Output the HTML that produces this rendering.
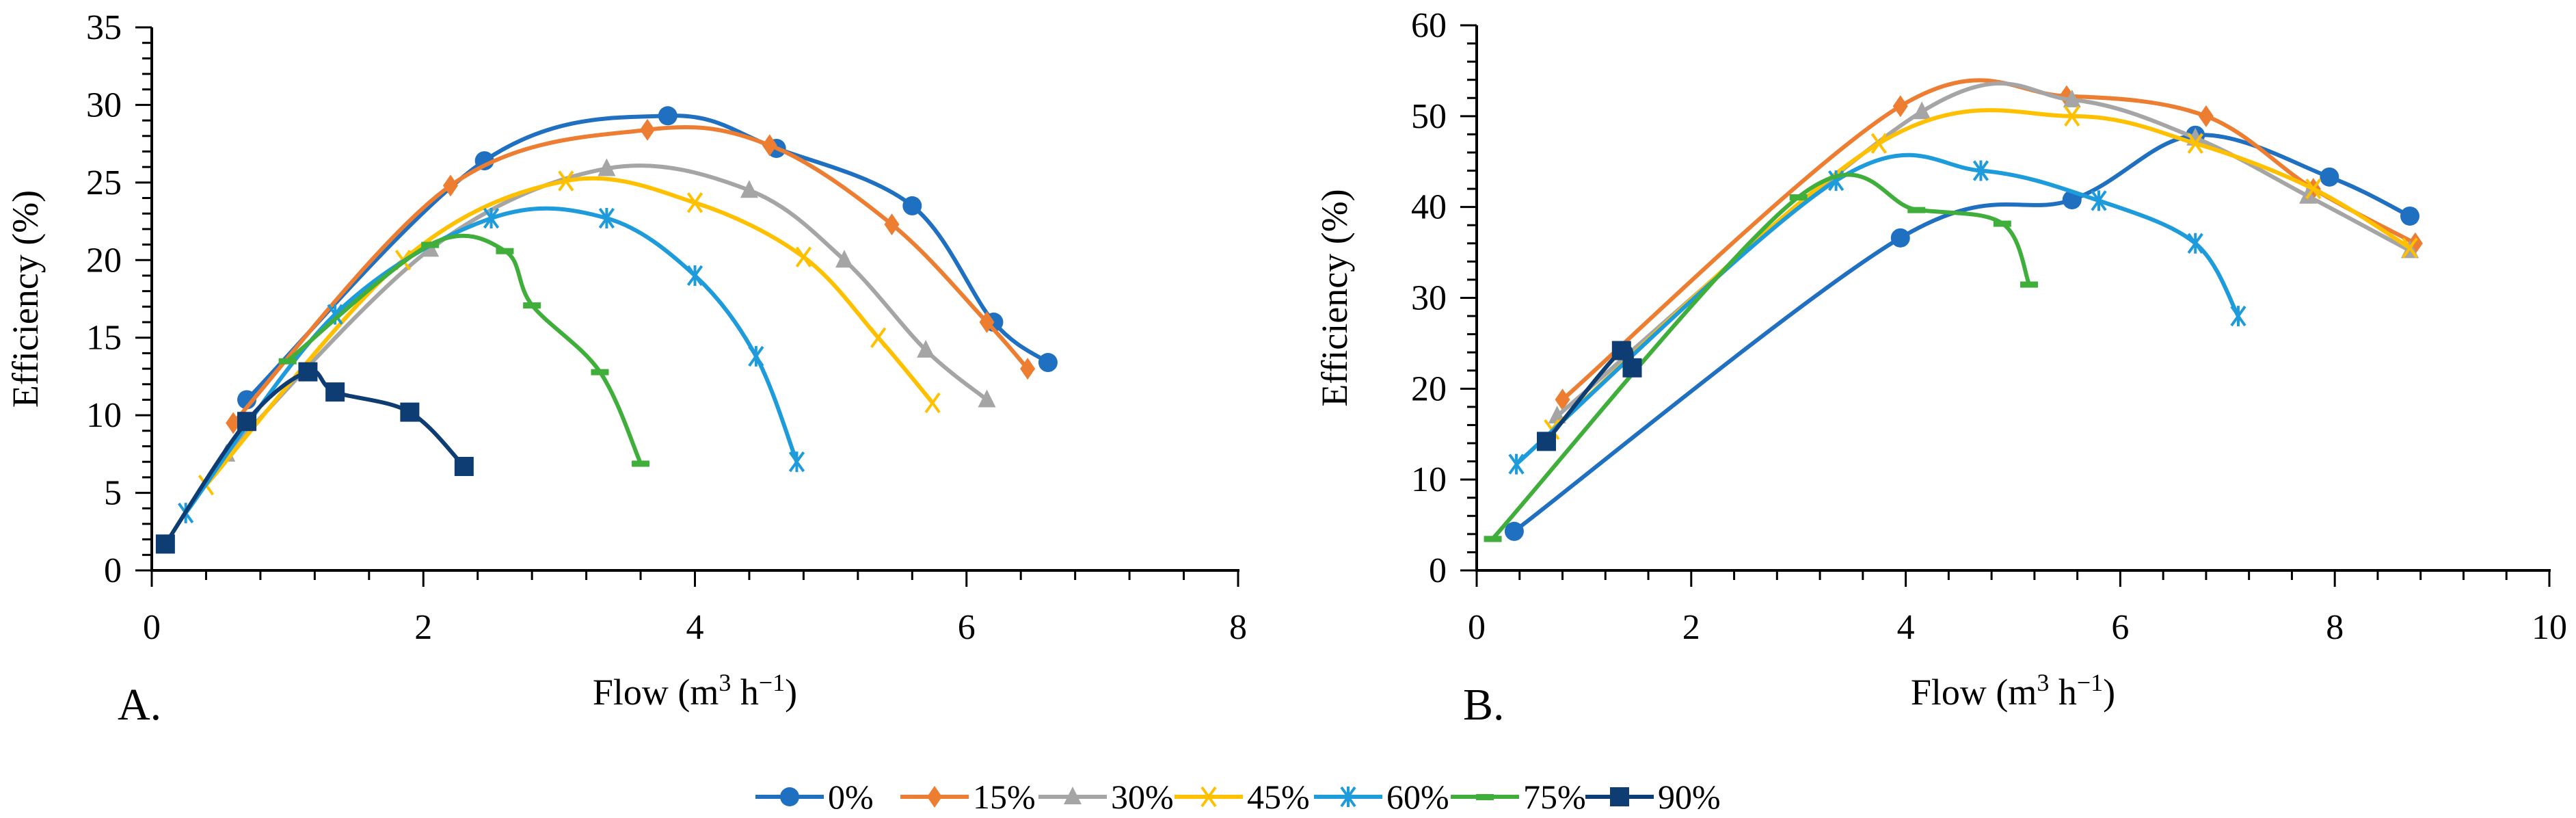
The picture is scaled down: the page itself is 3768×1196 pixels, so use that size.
<!DOCTYPE html>
<html><head><meta charset="utf-8"><style>
html,body{margin:0;padding:0;background:#fff}
svg{display:block}
text{font-family:"Liberation Serif",serif;fill:#000}
</style></head><body>
<svg id="c" width="3768" height="1196" viewBox="0 0 3768 1196"></svg>
<script>
const seriesNames=["0%","15%","30%","45%","60%","75%","90%"];
const colors=["#1f70c1","#ed7d31","#a5a5a5","#ffc000","#1e9bdb","#3fae3a","#0e3d73"];
const markers=["circle","diamond","triangle","x","star","dash","square"];
const aX0=[0.7,2.45,3.8,4.6,5.6,6.2,6.6], aY0=[11,26.4,29.3,27.2,23.5,16,13.4];
const aX15=[0.6,2.2,3.65,4.55,5.45,6.15,6.45], aY15=[9.5,24.8,28.4,27.4,22.3,16,13];
const aX30=[0.55,2.05,3.35,4.4,5.1,5.7,6.15], aY30=[7.5,20.7,25.9,24.5,20,14.2,11];
const aX45=[0.4,1.85,3.05,4.0,4.8,5.35,5.75], aY45=[5.5,20,25.1,23.7,20.2,15,10.8];
const aX60=[0.25,1.35,2.5,3.35,4.0,4.45,4.75], aY60=[3.7,16.5,22.7,22.7,19,13.8,7];
const aX75=[1.0,2.05,2.6,2.8,3.3,3.6], aY75=[13.5,21,20.6,17.1,12.8,6.9];
const aX90=[0.1,0.7,1.15,1.35,1.9,2.3], aY90=[1.7,9.6,12.8,11.5,10.2,6.7];
const bX0=[0.35,3.95,5.55,6.7,7.95,8.7], bY0=[4.3,36.6,40.8,47.9,43.3,39];
const bX15=[0.8,3.95,5.5,6.8,7.8,8.75], bY15=[18.8,51.1,52.2,50,42,36];
const bX30=[0.75,4.15,5.55,6.7,7.75,8.7], bY30=[17,50.5,51.8,47.6,41.2,35.2];
const bX45=[0.7,3.75,5.55,6.7,7.8,8.7], bY45=[15.5,47,50,47,42,35.5];
const bX60=[0.37,3.35,4.7,5.8,6.7,7.1], bY60=[11.7,42.9,44,40.7,36,28];
const bX75=[0.15,3.0,4.1,4.9,5.15], bY75=[3.5,41.1,39.7,38.2,31.5];
const bX90=[0.65,1.35,1.45], bY90=[14.2,24.2,22.3];
const xTicksA=[0,2,4,6,8], yTicksA=[0,5,10,15,20,25,30,35];
const xTicksB=[0,2,4,6,8,10], yTicksB=[0,10,20,30,40,50,60];

const NS="http://www.w3.org/2000/svg";
const svg=document.getElementById("c");
function mk(tag,attrs,parent){const e=document.createElementNS(NS,tag);for(const k in attrs)e.setAttribute(k,attrs[k]);(parent||svg).appendChild(e);return e;}

function marker(g,type,x,y,col){
  let e;
  if(type==="circle"){e=mk("circle",{cx:x,cy:y,r:14,fill:col},g);}
  else if(type==="diamond"){e=mk("polygon",{points:`${x},${y-16} ${x+11},${y} ${x},${y+16} ${x-11},${y}`,fill:col},g);}
  else if(type==="triangle"){e=mk("polygon",{points:`${x},${y-15} ${x+13},${y+11} ${x-13},${y+11}`,fill:col},g);}
  else if(type==="x"){e=mk("path",{d:`M${x-10},${y-14}L${x+10},${y+14}M${x+10},${y-14}L${x-10},${y+14}`,stroke:col,"stroke-width":4,fill:"none"},g);}
  else if(type==="star"){e=mk("path",{d:`M${x-10},${y-14}L${x+10},${y+14}M${x+10},${y-14}L${x-10},${y+14}M${x},${y-15}L${x},${y+15}`,stroke:col,"stroke-width":4,fill:"none"},g);}
  else if(type==="dash"){e=mk("rect",{x:x-13,y:y-4,width:26,height:9,fill:col},g);}
  else {e=mk("rect",{x:x-14,y:y-14,width:28,height:28,fill:col},g);}
  
  
}
function smooth(pts){
  if(pts.length<2)return "";
  let d=`M${pts[0][0]},${pts[0][1]}`;
  for(let i=0;i<pts.length-1;i++){
    const p0=pts[i-1]||pts[i],p1=pts[i],p2=pts[i+1],p3=pts[i+2]||p2;
    const t=1/6;
    d+=`C${p1[0]+(p2[0]-p0[0])*t},${p1[1]+(p2[1]-p0[1])*t} ${p2[0]-(p3[0]-p1[0])*t},${p2[1]-(p3[1]-p1[1])*t} ${p2[0]},${p2[1]}`;
  }
  return d;
}
function chart(cfg){
  const g=mk("g",{});
  
  
  const sx=v=>cfg.x0+(v-cfg.xmin)/(cfg.xmax-cfg.xmin)*(cfg.x1-cfg.x0);
  const sy=v=>cfg.y0-(v)/(cfg.ymax)*(cfg.y0-cfg.y1);
  // axes
  const ya=mk("line",{x1:cfg.x0,y1:cfg.y0+2,x2:cfg.x0,y2:cfg.y1,stroke:"#000","stroke-width":4},g);
  
  const xa=mk("line",{x1:cfg.x0-2,y1:cfg.y0,x2:cfg.x1+2,y2:cfg.y0,stroke:"#000","stroke-width":4},g);
  
  // x ticks
  for(let v=cfg.xmin;v<=cfg.xmax+1e-9;v+=cfg.xminor){
    const maj=Math.abs(v/2-Math.round(v/2))<1e-6;
    mk("line",{x1:sx(v),y1:cfg.y0,x2:sx(v),y2:cfg.y0+(maj?24:14),stroke:"#000","stroke-width":3},g);
  }
  for(let v=0;v<=cfg.ymax+1e-9;v+=cfg.yminor){
    const maj=Math.abs(v/cfg.ymaj-Math.round(v/cfg.ymaj))<1e-6;
    mk("line",{x1:cfg.x0,y1:sy(v),x2:cfg.x0-(maj?24:14),y2:sy(v),stroke:"#000","stroke-width":3},g);
  }
  cfg.xt.forEach(v=>{const t=mk("text",{x:sx(v),y:cfg.y0+100,"text-anchor":"middle","font-size":52},g);t.textContent=v;
    });
  cfg.yt.forEach(v=>{const t=mk("text",{x:cfg.x0-44,y:sy(v)+17,"text-anchor":"end","font-size":52},g);t.textContent=v;
    });
  const yt=mk("text",{x:0,y:0,"text-anchor":"middle","font-size":54,transform:`translate(${cfg.ytx},${(cfg.y0+cfg.y1)/2}) rotate(-90)`},g);
  yt.textContent="Efficiency (%)";
  const xt=mk("text",{x:(cfg.x0+cfg.x1)/2,y:1030,"text-anchor":"middle","font-size":54},g);
  xt.innerHTML='Flow (m<tspan font-size="36" dy="-20">3</tspan><tspan dy="20"> h</tspan><tspan font-size="36" dy="-20">−1</tspan><tspan dy="20">)</tspan>';
  
  const lab=mk("text",{x:cfg.labx,y:1052,"font-size":66},g);lab.textContent=cfg.lab;
  
  cfg.series.forEach((s,i)=>{
    const sg=mk("g",{},g);
    
    
    const pts=s[0].map((x,j)=>[sx(x),sy(s[1][j])]);
    const p=mk("path",{d:smooth(pts),stroke:colors[i],"stroke-width":6,fill:"none","stroke-linejoin":"round"},sg);
    
    pts.forEach(q=>marker(sg,markers[i],q[0],q[1],colors[i]));
  });
}
chart({name:"chart-a",x0:222,x1:1811,y0:834,y1:40,xmin:0,xmax:8,ymax:35,xminor:0.4,yminor:1,ymaj:5,
  xt:xTicksA,yt:yTicksA,ytx:55,labx:172,lab:"A.",
  series:[[aX0,aY0],[aX15,aY15],[aX30,aY30],[aX45,aY45],[aX60,aY60],[aX75,aY75],[aX90,aY90]]});
chart({name:"chart-b",x0:2160,x1:3729,y0:834,y1:37,xmin:0,xmax:10,ymax:60,xminor:0.4,yminor:2,ymaj:10,
  xt:xTicksB,yt:yTicksB,ytx:1970,labx:2140,lab:"B.",
  series:[[bX0,bY0],[bX15,bY15],[bX30,bY30],[bX45,bY45],[bX60,bY60],[bX75,bY75],[bX90,bY90]]});
// legend
const lg=mk("g",{});


const lx=[1105,1317,1519,1718,1922,2122,2319];
seriesNames.forEach((n,i)=>{
  const eg=mk("g",{},lg);
  
  
  mk("line",{x1:lx[i],y1:1165,x2:lx[i]+100,y2:1165,stroke:colors[i],"stroke-width":6},eg);
  marker(eg,markers[i],lx[i]+50,1165,colors[i]);
  const t=mk("text",{x:lx[i]+106,y:1182,"font-size":50},eg);t.textContent=n;
});
</script>
</body></html>
